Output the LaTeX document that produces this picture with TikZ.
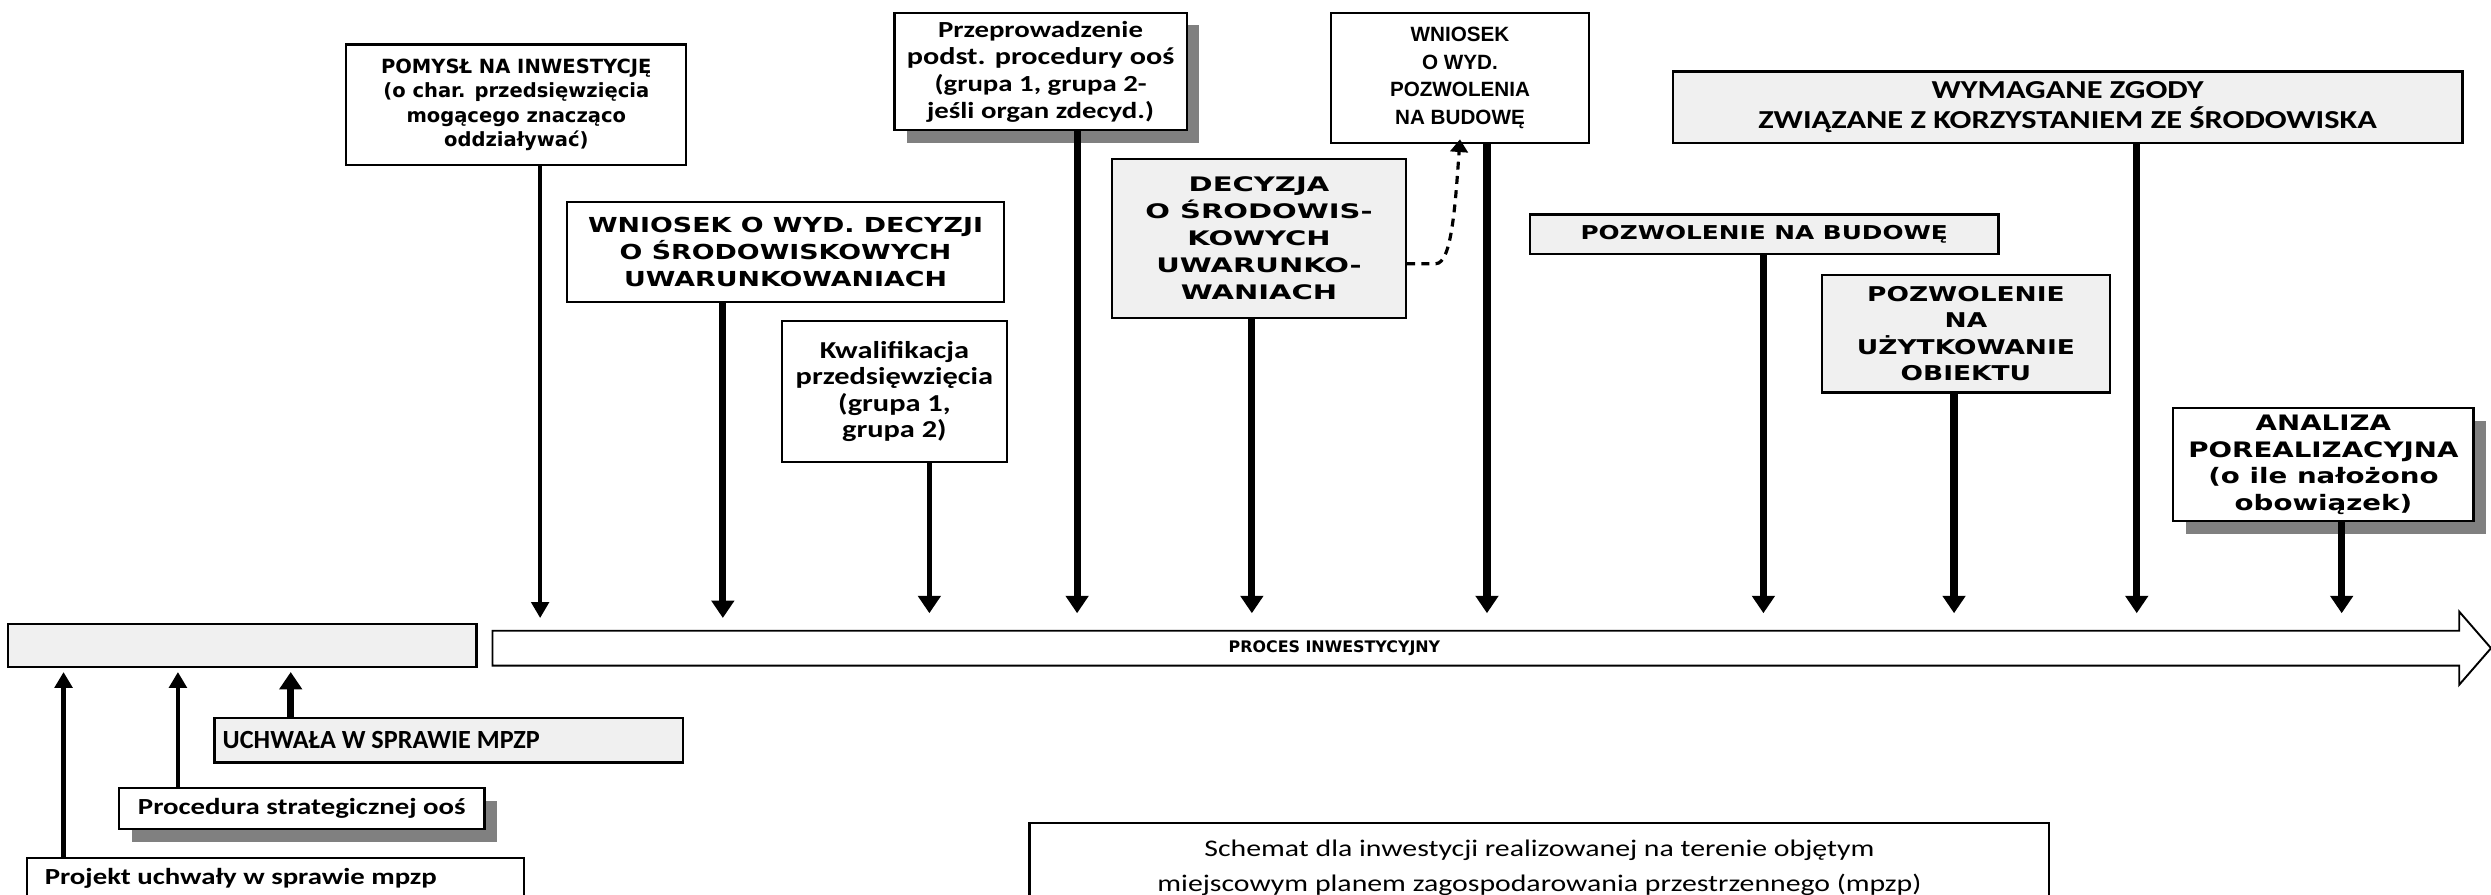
\documentclass[tikz,border=0pt]{standalone}
\usepackage{fontspec}
\setmainfont{DejaVu Sans}
\newfontfamily\pfont{DejaVu Sans}
\newfontfamily\vfont{DejaVu Sans}[FakeStretch=1.3]
\newfontfamily\vwfont{DejaVu Sans}[FakeStretch=1.45]
\newfontfamily\cfont{Carlito}[FakeStretch=1.25]
\newfontfamily\cnfont{Carlito}
\newfontfamily\afont{Liberation Sans}
\usetikzlibrary{arrows.meta,shadows}
\definecolor{boxgrey}{HTML}{F0F0F0}
\definecolor{shadowgrey}{HTML}{808080}
\begin{document}
\begin{tikzpicture}[x=1pt,y=-1pt,
  box/.style={draw, line width=1.4pt, inner sep=0pt, align=center, fill=white},
  gbox/.style={box, fill=boxgrey},
  shadowed/.style={drop shadow={shadow xshift=8pt, shadow yshift=-8pt, opacity=1, fill=shadowgrey}},
  vtext/.style={font=\vfont\bfseries\fontsize{13}{17}\selectfont},
  ctext/.style={font=\cfont\bfseries\fontsize{14.5}{17}\selectfont},
  atext/.style={font=\afont\bfseries\fontsize{13}{17.5}\selectfont},
  thin/.style={line width=2.2pt, -{Triangle[width=11pt,length=10pt]}},
  thick/.style={line width=4.5pt, -{Triangle[width=14pt,length=11pt]}},
]
\useasboundingbox (0,0) rectangle (1568,563);

% process arrow
\draw[line width=1.2pt, fill=white] (310,397) -- (1548,397) -- (1548,385) -- (1568,408) -- (1548,431) -- (1548,419) -- (310,419) -- cycle;
\node[font=\pfont\bfseries\fontsize{10}{12}\selectfont] (proc) at (840,408) {PROCES INWESTYCYJNY};
\node[gbox, minimum width=295, minimum height=27] (L) at (152.5,406.5) {};

% top boxes
\node[box, font=\pfont\bfseries\fontsize{12.3}{15.4}\selectfont, minimum width=214, minimum height=76] (A) at (325,66)
  {POMYSŁ NA INWESTYCJĘ\\(o char. przedsięwzięcia\\mogącego znacząco\\oddziaływać)};
\node[box, vtext, minimum width=275, minimum height=63] (B) at (494.5,158.5)
  {WNIOSEK O WYD. DECYZJI\\O ŚRODOWISKOWYCH\\UWARUNKOWANIACH};
\node[box, font=\cfont\bfseries\fontsize{15.3}{16.5}\selectfont, minimum width=142, minimum height=89] (C) at (563,246.5)
  {Kwalifikacja\\przedsięwzięcia\\(grupa 1,\\grupa 2)};
\node[box, ctext, shadowed, minimum width=184, minimum height=74] (D) at (655,45)
  {Przeprowadzenie\\{\fontsize{15.2}{17}\selectfont podst. procedury ooś}\\(grupa 1, grupa 2-\\jeśli organ zdecyd.)};
\node[gbox, font=\vwfont\bfseries\fontsize{12.6}{17}\selectfont, minimum width=185, minimum height=100] (E) at (792.5,150)
  {DECYZJA\\O ŚRODOWIS-\\KOWYCH\\UWARUNKO-\\WANIACH};
\node[box, atext, minimum width=162, minimum height=82] (F) at (919,49)
  {WNIOSEK\\O WYD.\\POZWOLENIA\\NA BUDOWĘ};
\node[gbox, font=\vfont\bfseries\fontsize{12}{14}\selectfont, minimum width=295, minimum height=25] (G) at (1110.5,147.5)
  {POZWOLENIE NA BUDOWĘ};
\node[gbox, font=\cfont\bfseries\fontsize{16.3}{19}\selectfont, minimum width=497, minimum height=45] (H) at (1301.5,67.5)
  {WYMAGANE ZGODY\\ZWIĄZANE Z KORZYSTANIEM ZE ŚRODOWISKA};
\node[gbox, font=\vfont\bfseries\fontsize{12.8}{16.7}\selectfont, minimum width=181, minimum height=74] (I) at (1237.5,210)
  {POZWOLENIE\\NA\\UŻYTKOWANIE\\OBIEKTU};
\node[box, font=\vfont\bfseries\fontsize{13.4}{16.7}\selectfont, shadowed, minimum width=189, minimum height=71] (J) at (1462.5,292.5)
  {ANALIZA\\POREALIZACYJNA\\(o ile nałożono\\obowiązek)};

% bottom boxes
\node[gbox, minimum width=295, minimum height=28] (U) at (282.5,466) {};
\node[font=\cnfont\bfseries\fontsize{16.5}{18}\selectfont, anchor=west, inner sep=0pt] (Ut) at (140,466) {UCHWAŁA W SPRAWIE MPZP};
\node[box, ctext, shadowed, minimum width=230, minimum height=26] (P) at (190,509) {Procedura strategicznej ooś};
\node[box, minimum width=313, minimum height=26] (R) at (173.5,553) {};
\node[ctext, anchor=west, inner sep=0pt] (Rt) at (28,553) {Projekt uchwały w sprawie mpzp};
\node[box, font=\cfont\fontsize{15}{22}\selectfont, minimum width=642, minimum height=56] (S) at (969,546)
  {Schemat dla inwestycji realizowanej na terenie objętym\\miejscowym planem zagospodarowania przestrzennego (mpzp)};

% arrow end points on the process arrow
\coordinate (tA) at (340,389);
\coordinate (tB) at (455,389);
\coordinate (tC) at (585,386);
\coordinate (tD) at (678,386);
\coordinate (tE) at (788,386);
\coordinate (tF) at (936,386);
\coordinate (tG) at (1110,386);
\coordinate (tI) at (1230,386);
\coordinate (tH) at (1345,386);
\coordinate (tJ) at (1474,386);
\coordinate (bR) at (40,423);
\coordinate (bP) at (112,423);
\coordinate (bU) at (183,423);

\draw[thin] (A.south -| tA) -- (tA);
\draw[thick] (B.south -| tB) -- (tB);
\draw[thick, line width=3.5pt] (C.south -| tC) -- (tC);
\draw[thick] (D.south -| tD) -- (tD);
\draw[thick] (E.south -| tE) -- (tE);
\draw[thick] (F.south -| tF) -- (tF);
\draw[thick] (G.south -| tG) -- (tG);
\draw[thick] (I.south -| tI) -- (tI);
\draw[thick] (H.south -| tH) -- (tH);
\draw[thick] (J.south -| tJ) -- (tJ);

\draw[thin, line width=3pt] (R.north -| bR) -- (bR);
\draw[thin, line width=3pt] (P.north -| bP) -- (bP);
\draw[thick] (U.north -| bU) -- (bU);

% dashed connector
\draw[line width=2pt, dash pattern=on 5pt off 4pt, -{Triangle[width=11pt,length=8pt]}]
  ([yshift=-16pt]E.east) -- ++(18,0) .. controls +(10,0) and (916,130) .. ([yshift=3pt]F.south);
\end{tikzpicture}
\end{document}
